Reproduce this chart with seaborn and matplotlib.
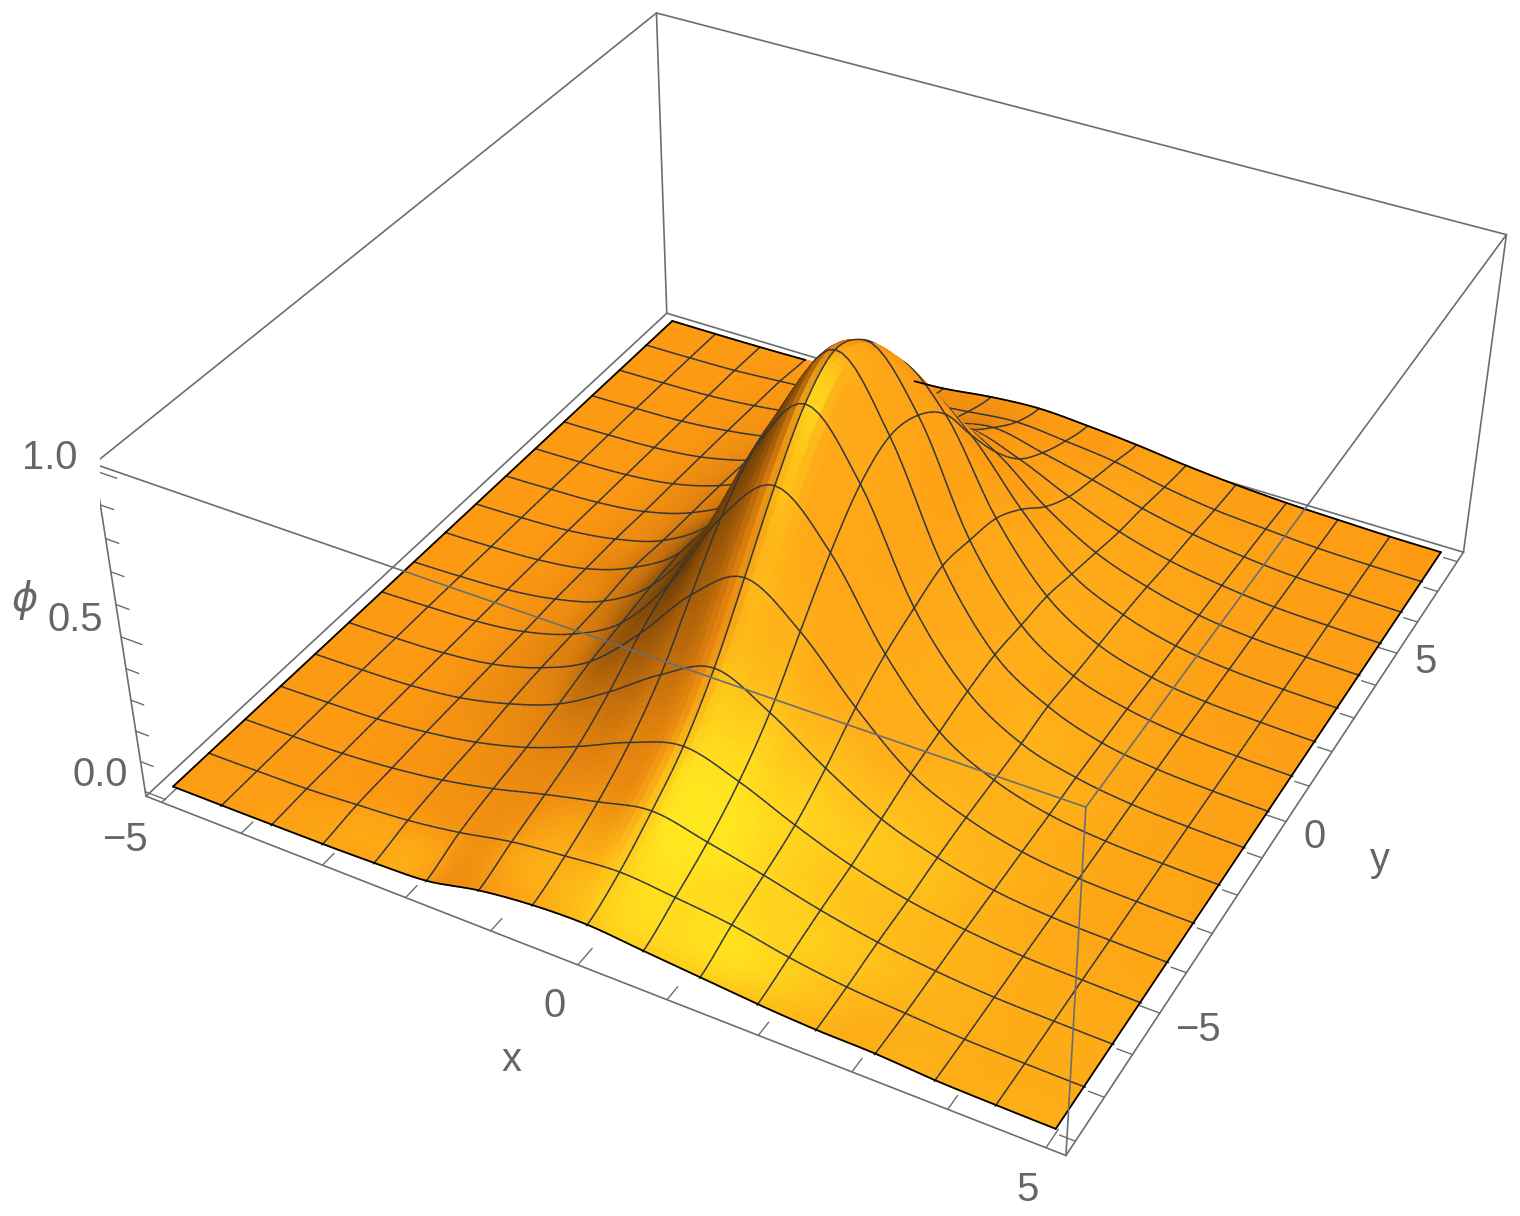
import numpy as np
import matplotlib
matplotlib.use("Agg")
import matplotlib.pyplot as plt
import seaborn as sns
from mpl_toolkits.mplot3d.art3d import Poly3DCollection

# mesh positions and tick values
x_mesh = [-5, -4.375, -3.75, -3.125, -2.5, -1.875, -1.25, -0.625, 0, 0.625, 1.25, 1.875, 2.5, 3.125, 3.75, 4.375, 5]
y_mesh = [-8, -7, -6, -5, -4, -3, -2, -1, 0, 1, 2, 3, 4, 5, 6, 7, 8]
x_ticks = [-5, -4, -3, -2, -1, 0, 1, 2, 3, 4, 5]
y_ticks = [-8, -7, -6, -5, -4, -3, -2, -1, 0, 1, 2, 3, 4, 5, 6, 7, 8]
z_ticks = [0.0, 0.1, 0.2, 0.3, 0.4, 0.5, 0.6, 0.7, 0.8, 0.9, 1.0]

# phi read at the mesh crossings, one list per y line
phi_ym8 = [0, 0, .001, .002, .006, .014, .05, .07, .075, .06, .045, .03, .02, .017, .006, .002, 0]
phi_ym7 = [0, .002, .006, .017, .03, .055, .09, .11, .125, .11, .09, .055, .03, .017, .006, .002, 0]
phi_ym6 = [0, .003, .008, .022, .045, .08, .125, .165, .20, .165, .125, .08, .045, .022, .008, .003, 0]
phi_ym5 = [0, .004, .01, .027, .055, .10, .165, .24, .29, .24, .165, .10, .055, .027, .01, .004, 0]
phi_ym4 = [0, .004, .011, .03, .07, .13, .23, .345, .425, .345, .23, .13, .07, .03, .011, .004, 0]
phi_ym3 = [0, .004, .012, .033, .08, .16, .31, .49, .60, .49, .31, .16, .08, .033, .012, .004, 0]
phi_ym2 = [0, .005, .013, .035, .085, .18, .37, .63, .78, .63, .37, .18, .085, .035, .013, .005, 0]
phi_ym1 = [0, .005, .015, .04, .09, .20, .41, .73, .93, .74, .41, .20, .09, .04, .015, .005, 0]
phi_y0 = [0, .005, .015, .04, .10, .21, .44, .77, 1.0, .79, .44, .21, .10, .04, .015, .005, 0]
phi_yp1 = [0, .005, .015, .04, .09, .20, .41, .74, .94, .76, .42, .20, .09, .04, .015, .005, 0]
phi_yp2 = [0, .005, .013, .035, .085, .18, .37, .64, .80, .67, .39, .19, .085, .035, .013, .005, 0]
phi_yp3 = [0, .004, .012, .033, .08, .16, .31, .50, .62, .51, .32, .16, .08, .033, .012, .004, 0]
phi_yp4 = [0, .004, .011, .03, .07, .13, .23, .36, .43, .36, .23, .13, .07, .03, .011, .004, 0]
phi_yp5 = [0, .004, .01, .027, .055, .10, .165, .24, .29, .24, .165, .10, .055, .027, .01, .004, 0]
phi_yp6 = [0, .003, .008, .022, .045, .08, .125, .165, .20, .165, .125, .08, .045, .022, .008, .003, 0]
phi_yp7 = [0, .002, .006, .017, .03, .055, .09, .11, .125, .11, .09, .055, .03, .017, .006, .002, 0]
phi_yp8 = [0, 0, .001, .004, .01, .04, .05, .07, .08, .07, .055, .035, .02, .01, .005, .001, 0]

phi = np.array([phi_ym8, phi_ym7, phi_ym6, phi_ym5, phi_ym4, phi_ym3, phi_ym2, phi_ym1, phi_y0,
                phi_yp1, phi_yp2, phi_yp3, phi_yp4, phi_yp5, phi_yp6, phi_yp7, phi_yp8])

XLIM = (-5.2, 5.2)
YLIM = (-8.32, 8.32)
ZLIM = (-0.015, 1.02)
Z_RATIO = 0.4

sns.set_style("white")
plt.rcParams["font.family"] = ["Liberation Sans", "DejaVu Sans"]

fig = plt.figure(figsize=(7.6, 6.08), dpi=200)
ax = fig.add_subplot(projection="3d", computed_zorder=False)
ax.set_xlim(*XLIM)
ax.set_ylim(*YLIM)
ax.set_zlim(*ZLIM)
ax.set_axis_off()
ax.patch.set_alpha(0)
ax.set_box_aspect((1, 1, Z_RATIO))
ax.view_init(36, -61.5)
ax.set_proj_type("persp", focal_length=0.44)

# axes box placed in pixels so the camera lands on the box corners
px_scale = 1392.5 / 0.18
left = 835.2 - 0.095 * px_scale
bottom = 511.7 + 0.095 * px_scale
side = 0.185 * px_scale
ax.set_position([left / 1520, 1 - bottom / 1216, side / 1520, side / 1216])

# drawing grid: each cell is split and the sheet is drawn as a smooth curve through the read crossings
STEPS = 8
fine_idx = np.linspace(0, 16, 16 * STEPS + 1)
mesh_idx = np.arange(17)


def smooth_line(values):
    i = np.clip(np.floor(fine_idx).astype(int), 0, 15)
    t = fine_idx - i
    p0, p1, p2, p3 = values[np.clip(i - 1, 0, 16)], values[i], values[i + 1], values[np.clip(i + 2, 0, 16)]
    return 0.5 * (2 * p1 + (p2 - p0) * t + (2 * p0 - 5 * p1 + 4 * p2 - p3) * t ** 2 + (3 * p1 - p0 - 3 * p2 + p3) * t ** 3)


fz = np.array([smooth_line(row) for row in phi])
fz = np.array([smooth_line(col) for col in fz.T]).T
fx, fy = np.meshgrid(np.interp(fine_idx, mesh_idx, x_mesh), np.interp(fine_idx, mesh_idx, y_mesh))
pts = np.dstack([fx, fy, fz])

# one light from the right for the base tone, one from above the front for the yellow
bx = fx / (XLIM[1] - XLIM[0])
by = fy / (YLIM[1] - YLIM[0])
bz = fz * Z_RATIO / (ZLIM[1] - ZLIM[0])
dz_dy, dz_dx = np.gradient(bz, by[:, 0], bx[0, :])
normal = np.dstack([-dz_dx, -dz_dy, np.ones_like(bz)])
normal /= np.linalg.norm(normal, axis=2, keepdims=True)
base = (normal * np.array([0.62, -0.15, 0.77])).sum(axis=2)
to_light = np.array([1.0, -2.0, 3.6]) - np.dstack([bx, by, bz])
to_light /= np.linalg.norm(to_light, axis=2, keepdims=True)
glow = np.clip((normal * to_light).sum(axis=2), 0, 1) ** 12
glow = np.clip((glow - 0.15) * 1.15, 0, 0.95)
cmap = sns.blend_palette(["#4e2c03", "#6a3c05", "#a05a09", "#dd7f0e", "#fc9812", "#ffae1a"], as_cmap=True)
base_rgba = cmap(np.clip((base + 0.4) / 1.4, 0, 1))
yellow = np.array(matplotlib.colors.to_rgba("#ffea20"))
rgba = base_rgba * (1 - glow[..., None]) + yellow * glow[..., None]

faces = np.stack([pts[:-1, :-1], pts[:-1, 1:], pts[1:, 1:], pts[1:, :-1]], axis=2).reshape(-1, 4, 3)
face_colors = ((rgba[:-1, :-1] + rgba[:-1, 1:] + rgba[1:, 1:] + rgba[1:, :-1]) / 4).reshape(-1, 4)

# mesh lines go in the same collection so the depth sort hides them behind the bump
toward_eye = np.array([1.3, -2.4, 2.0]) / 3.39
lift = 0.012 * toward_eye * np.array([XLIM[1] - XLIM[0], YLIM[1] - YLIM[0], (ZLIM[1] - ZLIM[0]) / Z_RATIO])
segs = []
for k in range(1, 16):
    line = pts[k * STEPS, :] + lift
    segs.append(np.stack([line[:-1], line[1:], line[1:], line[:-1]], axis=1))
    line = pts[:, k * STEPS] + lift
    segs.append(np.stack([line[:-1], line[1:], line[1:], line[:-1]], axis=1))
segs = np.concatenate(segs)
seg_colors = np.tile(matplotlib.colors.to_rgba("#333538"), (len(segs), 1))

poly = Poly3DCollection(np.concatenate([faces, segs]), facecolors=np.concatenate([face_colors, seg_colors]),
                        edgecolors=np.concatenate([face_colors, seg_colors]), linewidths=0.55, zorder=2)
poly.set_zsort("average")
ax.add_collection3d(poly, autolim=False)

# black outline of the surface
line_kw = dict(color="black", lw=0.65, zorder=3, solid_capstyle="round")
edge = STEPS * 16
hide_from, hide_to = 3 * STEPS + 1, 5 * STEPS + 3
ax.plot(fx[0], fy[0], fz[0], **line_kw)
ax.plot(fx[:, 0], fy[:, 0], fz[:, 0], **line_kw)
ax.plot(fx[:, edge], fy[:, edge], fz[:, edge], **line_kw)
ax.plot(fx[edge, :hide_from], fy[edge, :hide_from], fz[edge, :hide_from], **line_kw)
ax.plot(fx[edge, hide_to:], fy[edge, hide_to:], fz[edge, hide_to:], **line_kw)

# box
box_kw = dict(color="#6b6e70", lw=0.6, solid_capstyle="round")
x0, x1 = XLIM
y0, y1 = YLIM
z0, z1 = ZLIM
for xs, ys in [((x0, x1), (y1, y1)), ((x0, x0), (y0, y1))]:
    ax.plot(xs, ys, (z0, z0), zorder=1, **box_kw)
ax.plot((x0, x1), (y0, y0), (z0, z0), zorder=1, **box_kw)
ax.plot((x1, x1), (y0, y1), (z0, z0), zorder=1, **box_kw)
for xs, ys in [((x0, x1), (y0, y0)), ((x1, x1), (y0, y1)), ((x1, x0), (y1, y1)), ((x0, x0), (y1, y0))]:
    ax.plot(xs, ys, (z1, z1), zorder=4, **box_kw)
for xc, yc in [(x0, y0), (x1, y0), (x1, y1), (x0, y1)]:
    ax.plot((xc, xc), (yc, yc), (z0, z1), zorder=4, **box_kw)

# ticks
tick_kw = dict(color="#6b6e70", lw=0.5)
for t in x_ticks:
    size = 0.42 if t % 5 == 0 else 0.32
    ax.plot((t, t), (y0, y0 + size), (z0, z0), zorder=1, **tick_kw)
for t in y_ticks:
    size = 0.22 if t % 5 == 0 else 0.16
    ax.plot((x1, x1 - size), (t, t), (z0, z0), zorder=1, **tick_kw)
for t in z_ticks:
    size = 0.26 if abs(t * 2 - round(t * 2)) < 1e-6 else 0.16
    ax.plot((x0, x0 + size), (y0, y0), (t, t), zorder=4, **tick_kw)

# labels
txt_kw = dict(color="#666666", fontsize=14.4, ha="center", va="center")
for label, px, py in [("1.0", 50, 458), ("0.5", 75, 620), ("0.0", 100, 775), ("\u22125", 125, 840), ("0", 555, 1006),
                      ("5", 1027, 1190), ("\u22125", 1198, 1030), ("0", 1315, 837), ("5", 1425, 662), ("x", 512, 1060),
                      ("y", 1380, 860)]:
    fig.text(px / 1520, 1 - py / 1216, label, **txt_kw)
fig.text(25 / 1520, 1 - 600 / 1216, "\u03d5", family="DejaVu Sans", style="italic", color="#666666", fontsize=14.4, ha="center", va="center")

fig.savefig("out.png", dpi=200)
